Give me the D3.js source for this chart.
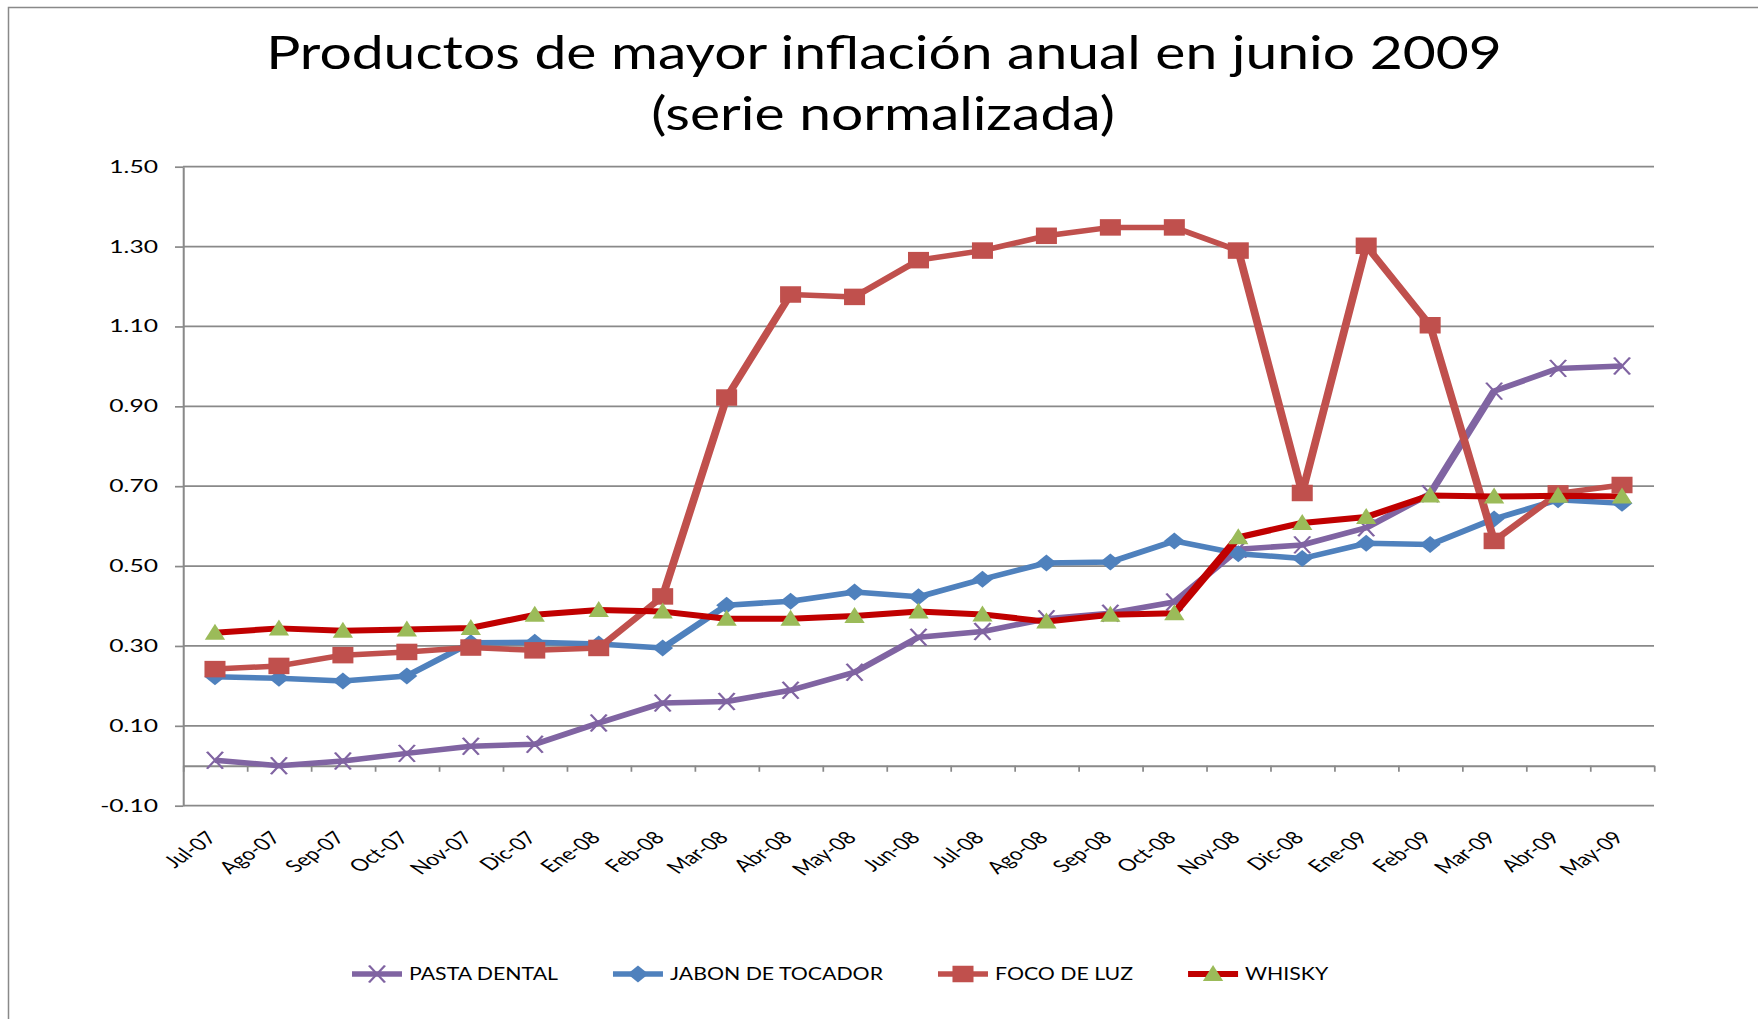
<!DOCTYPE html>
<html>
<head>
<meta charset="utf-8">
<script src="https://cdn.jsdelivr.net/npm/d3@7"></script>
<style>
  body { margin: 0; background: #fff; }
  svg { display: block; }
  text { font-family: Lato, "Open Sans", sans-serif; fill: #000; }
</style>
</head>
<body>
<svg id="chart" width="1758" height="1019"></svg>
<script>
// months on the category axis
var months = ["Jul-07", "Ago-07", "Sep-07", "Oct-07", "Nov-07", "Dic-07", "Ene-08", "Feb-08",
              "Mar-08", "Abr-08", "May-08", "Jun-08", "Jul-08", "Ago-08", "Sep-08", "Oct-08",
              "Nov-08", "Dic-08", "Ene-09", "Feb-09", "Mar-09", "Abr-09", "May-09"];

// normalized series
var pastaDental = [0.014, 0.000, 0.012, 0.031, 0.049, 0.054, 0.107, 0.157, 0.161, 0.189, 0.234, 0.322,
                   0.336, 0.368, 0.382, 0.410, 0.542, 0.553, 0.596, 0.681, 0.938, 0.995, 1.001];
var jabonTocador = [0.223, 0.219, 0.212, 0.225, 0.308, 0.309, 0.305, 0.295, 0.402, 0.412, 0.435, 0.423,
                    0.467, 0.508, 0.510, 0.563, 0.531, 0.519, 0.557, 0.554, 0.618, 0.666, 0.657];
var focoLuz = [0.242, 0.250, 0.277, 0.285, 0.296, 0.289, 0.295, 0.424, 0.922, 1.180, 1.174, 1.266,
               1.290, 1.327, 1.348, 1.348, 1.290, 0.683, 1.302, 1.103, 0.563, 0.682, 0.703];
var whisky = [0.333, 0.344, 0.338, 0.341, 0.345, 0.378, 0.390, 0.386, 0.368, 0.368, 0.375, 0.386,
              0.379, 0.361, 0.378, 0.382, 0.572, 0.608, 0.623, 0.677, 0.674, 0.676, 0.674];

var seriesNames = ["PASTA DENTAL", "JABON DE TOCADOR", "FOCO DE LUZ", "WHISKY"];
var yTicks = [-0.10, 0.10, 0.30, 0.50, 0.70, 0.90, 1.10, 1.30, 1.50];
var titleLines = ["Productos de mayor inflación anual en junio 2009", "(serie normalizada)"];

var W = 1758, H = 1019;
// the original picture was stretched sideways, everything in "stage" is drawn squeezed and scaled back
var SX = 1.45;
var plotLeft = 183, plotRight = 1654, plotTop = 166.7, plotBottom = 805.7;
var gridColor = "#898989";

var series = [
    { name: seriesNames[0], values: pastaDental, color: "#8064A2", marker: "x", fill: "#8064A2", width: 5.5 },
    { name: seriesNames[1], values: jabonTocador, color: "#4F81BD", marker: "diamond", fill: "#4F81BD", width: 5.5 },
    { name: seriesNames[2], values: focoLuz, color: "#C0504D", marker: "square", fill: "#C0504D", width: 5.5 },
    { name: seriesNames[3], values: whisky, color: "#C00000", marker: "triangle", fill: "#9BBB59", width: 6 }
];

var svg = d3.select("#chart");

// outer chart frame (runs off the right and bottom of the shot)
svg.append("rect")
    .attr("x", 8.5).attr("y", 7.5)
    .attr("width", 1800).attr("height", 1100)
    .attr("fill", "none").attr("stroke", gridColor).attr("stroke-width", 1.5);

// title
var title = svg.append("g").attr("class", "title");
var t1 = title.append("text")
    .attr("text-anchor", "middle")
    .style("font-size", "46px")
    .text(titleLines[0]);
var t2 = title.append("text")
    .attr("text-anchor", "middle")
    .style("font-size", "46px")
    .text(titleLines[1]);
var k = 1236 / t1.node().getComputedTextLength();
t1.attr("transform", "translate(884,69) scale(" + k + ",1)");
t2.attr("transform", "translate(883,130) scale(" + k + ",1)");

var stage = svg.append("g").attr("transform", "scale(" + SX + ",1)");

var x = d3.scaleBand()
    .domain(months)
    .range([plotLeft / SX, plotRight / SX]);
var y = d3.scaleLinear()
    .domain([-0.1, 1.5])
    .range([plotBottom, plotTop]);
var cx = function (m) { return x(m) + x.bandwidth() / 2; };

// gridlines
stage.append("g").selectAll("line")
    .data(yTicks)
    .enter().append("line")
    .attr("x1", plotLeft / SX).attr("x2", plotRight / SX)
    .attr("y1", function (d) { return y(d); })
    .attr("y2", function (d) { return y(d); })
    .attr("stroke", gridColor).attr("stroke-width", 1.7);

// value axis
var fmt = d3.format(".2f");
var yAxis = d3.axisLeft(y)
    .tickValues(yTicks)
    .tickFormat(function (d) { return fmt(d).replace("\u2212", "-"); })
    .tickSize(8 / SX)
    .tickSizeOuter(0)
    .tickPadding(17 / SX);
var gy = stage.append("g")
    .attr("transform", "translate(" + (plotLeft / SX) + ",0)")
    .call(yAxis);
gy.select(".domain").attr("stroke", gridColor).attr("stroke-width", 1.4);
gy.selectAll(".tick line").attr("stroke", gridColor).attr("stroke-width", 1.7);
gy.selectAll(".tick text")
    .style("font-size", "17px")
    .style("font-family", "Lato, sans-serif")
    .attr("fill", "#000");

// category axis crossing at zero, ticks between categories
var xEdge = d3.scaleLinear().domain([0, months.length]).range(x.range());
var gx0 = stage.append("g")
    .attr("transform", "translate(0," + y(0) + ")")
    .call(d3.axisBottom(xEdge)
        .tickValues(d3.range(0, months.length + 1))
        .tickSize(6).tickSizeOuter(0)
        .tickFormat(""));
gx0.select(".domain").attr("stroke", gridColor).attr("stroke-width", 2);
gx0.selectAll(".tick line").attr("stroke", gridColor).attr("stroke-width", 1.2);

// category labels sit low, under the plot
var gx = stage.append("g")
    .attr("transform", "translate(0,839)")
    .call(d3.axisBottom(x).tickSize(0).tickSizeOuter(0));
gx.select(".domain").remove();
gx.selectAll(".tick text")
    .attr("x", 0).attr("y", 0).attr("dy", 0)
    .attr("transform", "translate(" + (3 / SX) + ",0) rotate(-45) scale(0.88,1)")
    .style("text-anchor", "end")
    .style("font-size", "17.5px")
    .style("font-family", "Lato, sans-serif")
    .attr("fill", "#000");

function drawMarker(sel, s) {
    if (s.marker === "square") {
        sel.append("rect")
            .attr("x", -7.25).attr("y", -8.25).attr("width", 14.5).attr("height", 16.5)
            .attr("fill", s.fill);
    } else if (s.marker === "diamond") {
        sel.append("path")
            .attr("d", "M0,-8.5L7.2,0L0,8.5L-7.2,0Z")
            .attr("fill", s.fill);
    } else if (s.marker === "triangle") {
        sel.append("path")
            .attr("d", "M0,-9L7,7L-7,7Z")
            .attr("fill", s.fill);
    } else {
        sel.append("path")
            .attr("d", "M-5.5,-8.5L5.5,8.5M-5.5,8.5L5.5,-8.5")
            .attr("fill", "none")
            .attr("stroke", s.fill).attr("stroke-width", 1.7);
    }
}

var line = d3.line()
    .x(function (d, i) { return cx(months[i]); })
    .y(function (d) { return y(d); });

series.forEach(function (s) {
    var g = stage.append("g");
    g.append("path")
        .attr("d", line(s.values))
        .attr("fill", "none")
        .attr("stroke", s.color)
        .attr("stroke-width", s.width)
        .attr("stroke-linejoin", "round");
    g.selectAll("g.pt")
        .data(s.values)
        .enter().append("g")
        .attr("class", "pt")
        .attr("transform", function (d, i) { return "translate(" + cx(months[i]) + "," + y(d) + ")"; })
        .each(function () { drawMarker(d3.select(this), s); });
});

// legend, text squeezed to the width of the original lettering
var legendY = 974;
var cursor = 352;
var probe = stage.append("text").style("font-size", "17px").text(seriesNames[0]);
var lk = 149 / (probe.node().getComputedTextLength() * SX);
probe.remove();
series.forEach(function (s) {
    var g = stage.append("g");
    g.append("line")
        .attr("x1", cursor / SX).attr("x2", (cursor + 50) / SX)
        .attr("y1", legendY).attr("y2", legendY)
        .attr("stroke", s.color).attr("stroke-width", s.width);
    drawMarker(g.append("g").attr("transform", "translate(" + ((cursor + 25) / SX) + "," + legendY + ")"), s);
    var txt = g.append("text")
        .attr("transform", "translate(" + ((cursor + 57) / SX) + "," + legendY + ") scale(" + lk + ",1)")
        .attr("dy", "0.36em")
        .style("font-size", "17px")
        .text(s.name);
    cursor = cursor + 57 + txt.node().getComputedTextLength() * SX * lk + 55;
});
</script>
</body>
</html>
